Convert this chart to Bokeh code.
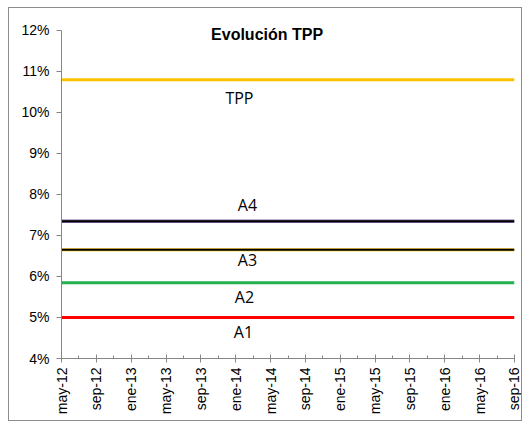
import math
from bokeh.plotting import figure
from bokeh.models import Range1d, FixedTicker, Label
from bokeh.embed import file_html
from bokeh.resources import INLINE
from bokeh.core.properties import value

# --- data ---
tick_labels = ["may-12", "sep-12", "ene-13", "may-13", "sep-13", "ene-14", "may-14",
               "sep-14", "ene-15", "may-15", "sep-15", "ene-16", "may-16", "sep-16"]
tick_months = [0, 4, 8, 12, 16, 20, 24, 28, 32, 36, 40, 44, 48, 52]
minor_months = [2, 6, 10, 14, 18, 22, 26, 30, 34, 38, 42, 46, 50]
x_span = [0, 52]  # may-12 .. sep-16 (month index)

series_names = ["TPP", "A4", "A3", "A2", "A1"]
series_values = [10.8, 7.35, 6.65, 5.85, 5.0]
y_ticks = [4, 5, 6, 7, 8, 9, 10, 11, 12]
y_tick_labels = ["4%", "5%", "6%", "7%", "8%", "9%", "10%", "11%", "12%"]

FONT = "Liberation Sans"

p = figure(width=514, height=414, output_backend="svg", toolbar_location=None,
           x_range=Range1d(0, 52), y_range=Range1d(4, 12.243),
           min_border_left=52, min_border_right=9, min_border_top=12, min_border_bottom=64)
p.outline_line_color = None
p.xgrid.visible = False
p.ygrid.visible = False
p.styles = {"border": "1px solid #8c8c8c", "box-sizing": "border-box",
            "margin-left": "8px", "margin-top": "7px"}

# lines
p.line(x_span, [series_values[0]] * 2, line_color="#FFC000", line_width=3)
p.line(x_span, [series_values[1]] * 2, line_color="#8064A2", line_width=3.5)
p.line(x_span, [series_values[1]] * 2, line_color="#000000", line_width=2)
p.line(x_span, [series_values[2]] * 2, line_color="#FFD54F", line_width=3.5)
p.line(x_span, [series_values[2]] * 2, line_color="#000000", line_width=2)
p.line(x_span, [series_values[3]] * 2, line_color="#22B14C", line_width=3)
p.line(x_span, [series_values[4]] * 2, line_color="#FF0000", line_width=3)

# data labels
label_anchor = 21
p.text(x=[label_anchor] * 5, y=series_values, text=series_names,
       x_offset=[-5, 3, 3, 0, -1], y_offset=[18, -16, 10, 14, 15],
       text_align="center", text_baseline="middle",
       text_font=value("Open Sans"), text_font_size="16px", text_color="#000000")

# title
p.add_layout(Label(x=23.6, y=11.9, text="Evolución TPP", text_align="center",
                   text_baseline="middle", text_font=FONT, text_font_size="16px",
                   text_font_style="bold", text_color="#000000"))

# axes
for ax in (p.xaxis[0], p.yaxis[0]):
    ax.axis_line_color = "#868686"
    ax.major_tick_line_color = "#868686"
    ax.minor_tick_line_color = "#868686"
    ax.major_label_text_font = FONT
    ax.major_label_text_color = "#000000"
    ax.major_label_text_font_size = "14px"

p.xaxis.ticker = FixedTicker(ticks=tick_months, minor_ticks=minor_months)
p.xaxis.major_label_overrides = {m: l for m, l in zip(tick_months, tick_labels)}
p.xaxis.major_label_orientation = math.pi / 2
p.xaxis.major_tick_in = 4
p.xaxis.major_tick_out = 4
p.xaxis.minor_tick_in = 3
p.xaxis.minor_tick_out = 0
p.xaxis.major_label_standoff = 5

p.yaxis.ticker = FixedTicker(ticks=y_ticks, minor_ticks=[])
p.yaxis.bounds = (4, 12)
p.yaxis.major_label_overrides = {v: l for v, l in zip(y_ticks, y_tick_labels)}
p.yaxis.major_tick_in = 0
p.yaxis.major_tick_out = 5
p.yaxis.minor_tick_in = 0
p.yaxis.minor_tick_out = 0
p.yaxis.major_label_standoff = 7

open("out.html", "w").write(file_html(p, INLINE))
